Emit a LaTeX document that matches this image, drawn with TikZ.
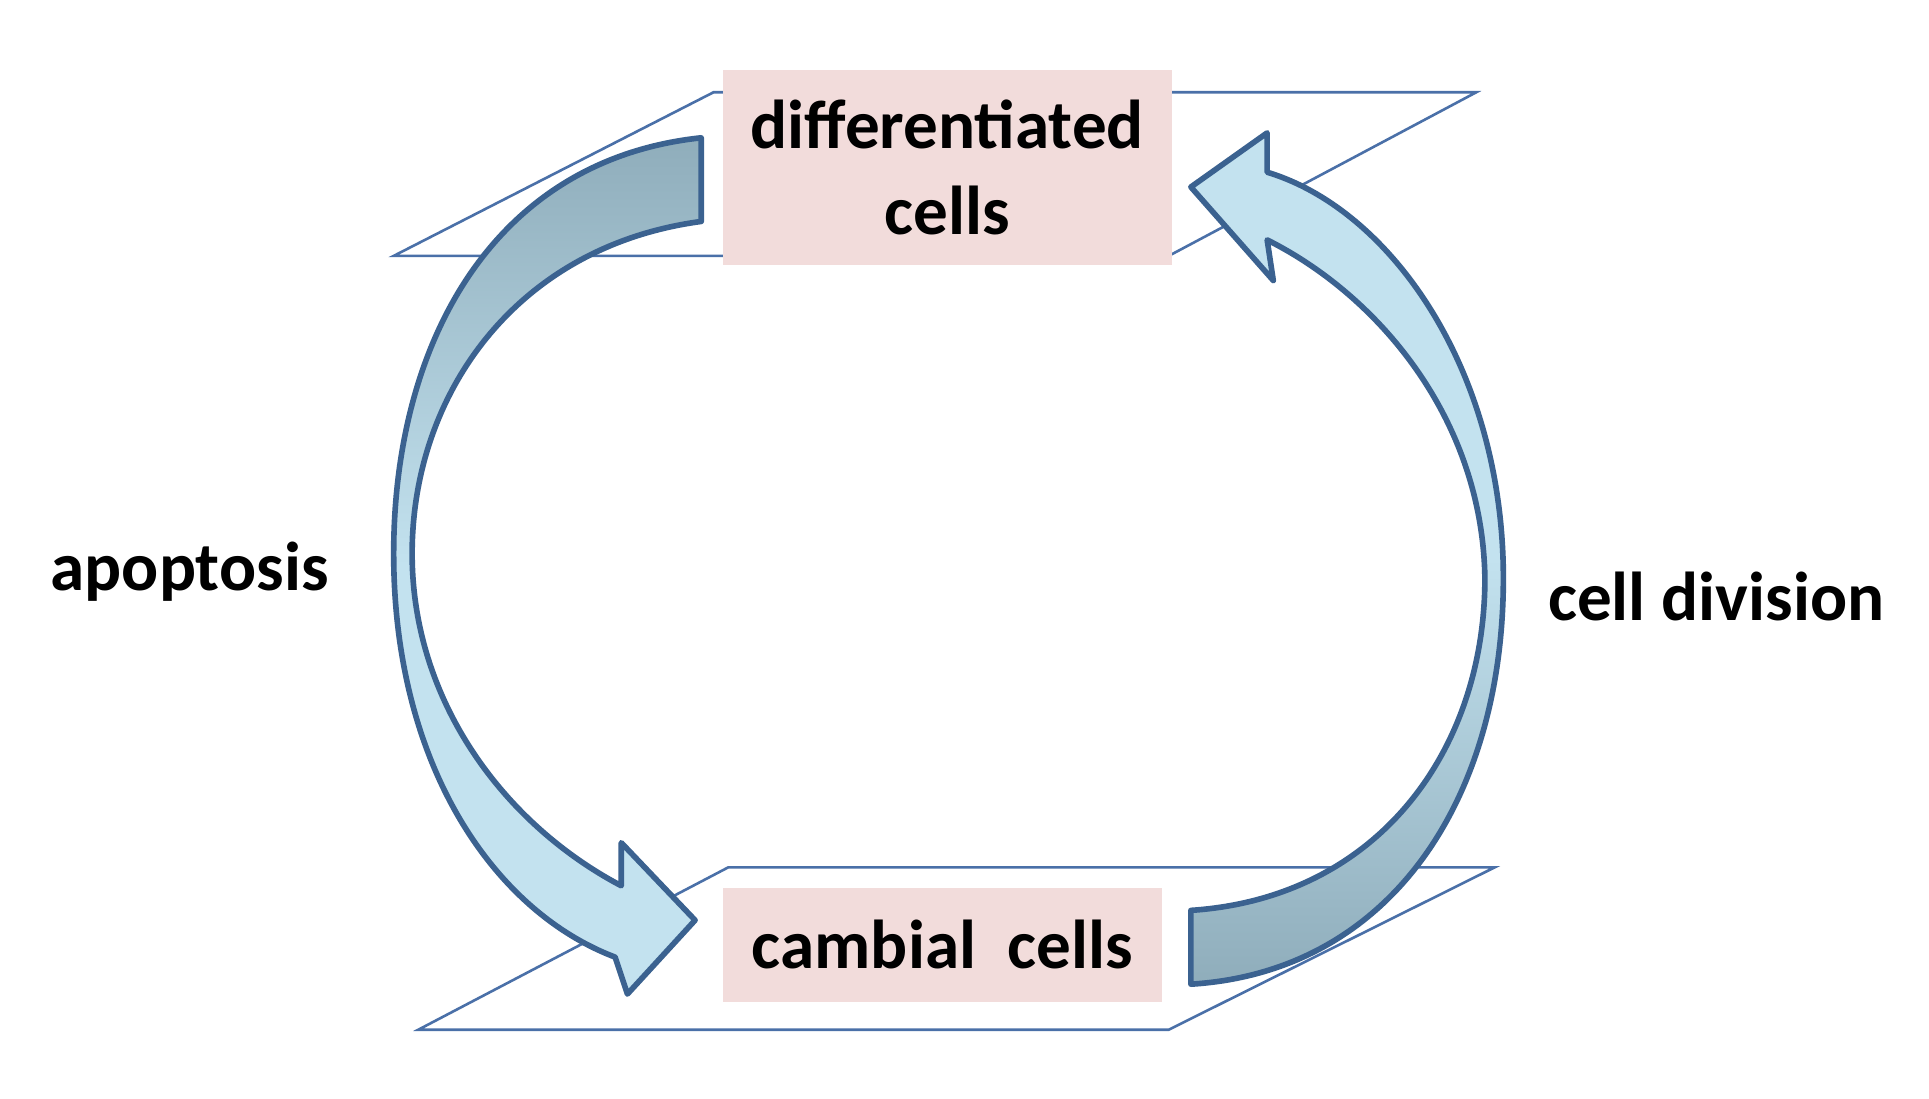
\documentclass[tikz,border=0pt]{standalone}
\usepackage{fontspec}
\setmainfont{Carlito}
\definecolor{edge}{HTML}{3B6290}
\definecolor{plane}{HTML}{4A70A8}
\definecolor{darkf}{HTML}{8FADBB}
\definecolor{lightf}{HTML}{C3E2EF}
\definecolor{boxp}{HTML}{F2DCDB}
\begin{document}
\begin{tikzpicture}[x=0.02cm,y=-0.02cm,
  plane/.style={draw=plane, line width=1.2pt},
  cellbox/.style={fill=boxp, draw=none, font=\bfseries\fontsize{32}{40}\selectfont, align=center, inner sep=0pt},
  lab/.style={font=\bfseries\fontsize{32}{38}\selectfont, inner sep=0pt},
  bigarrow/.style={draw=edge, line width=2.6pt, line join=round}]
\useasboundingbox (0,0) rectangle (1568,893);
\fill[white] (0,0) rectangle (1568,893);
% planes
\draw[plane] (320,208) -- (580,75) -- (1200,75) -- (950,208) -- cycle;
\draw[plane] (340,837) -- (592,705) -- (1215,705) -- (950,837) -- cycle;
% boxes
\node[cellbox, minimum width=365*0.02cm, minimum height=158*0.02cm] (diff) at (770,136) {differentiated\\cells};
\node[cellbox, minimum width=357*0.02cm, minimum height=93*0.02cm] (camb) at (766,768) {cambial\ \ cells};
% arrows
\path[bigarrow, top color=darkf, bottom color=lightf, middle color=lightf]
  (570,112) .. controls (400,130) and (320,280) .. (320,450)
  .. controls (320,620) and (400,740) .. (500,778)
  -- (510,808) -- (565,748) -- (505,685) -- (505,720)
  .. controls (410,670) and (335,570) .. (335,450)
  .. controls (335,320) and (420,200) .. (570,180) -- cycle;
\path[bigarrow, bottom color=darkf, top color=lightf, middle color=lightf]
  (968,800) .. controls (1130,790) and (1222,650) .. (1222,470)
  .. controls (1222,300) and (1130,170) .. (1030,140)
  -- (1030,108) -- (968,152) -- (1035,228) -- (1030,195)
  .. controls (1120,240) and (1205,340) .. (1207,470)
  .. controls (1207,610) and (1120,730) .. (968,740) -- cycle;
% labels
\node[lab] (apo) at (154,465) {apoptosis};
\node[lab] (div) at (1395,485) {cell division};
\end{tikzpicture}
\end{document}
